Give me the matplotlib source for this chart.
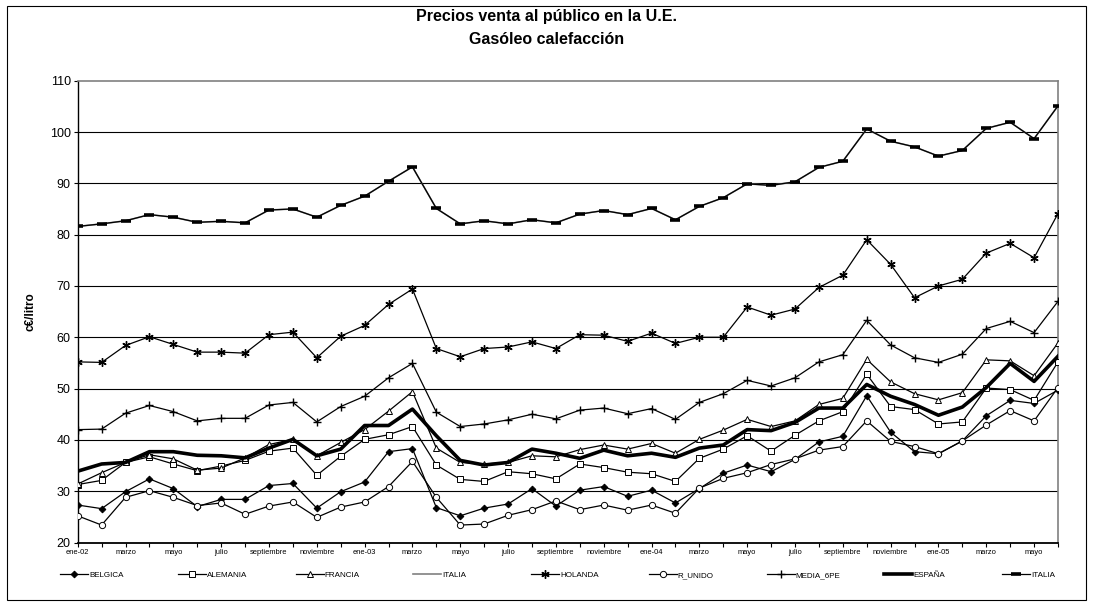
import matplotlib
matplotlib.use("Agg")
import matplotlib.pyplot as plt
from matplotlib.patches import Rectangle

plt.rcParams['font.family'] = ['Liberation Sans', 'DejaVu Sans']

# ---- data (c€/litro), monthly ene-02 .. jun-05 ----
x_labels = ['ene-02', 'marzo', 'mayo', 'julio', 'septiembre', 'noviembre',
            'ene-03', 'marzo', 'mayo', 'julio', 'septiembre', 'noviembre',
            'ene-04', 'marzo', 'mayo', 'julio', 'septiembre', 'noviembre',
            'ene-05', 'marzo', 'mayo']

belgica = [27.3, 26.6, 29.9, 32.4, 30.5, 27.0, 28.4, 28.4, 31.1, 31.5,
           26.7, 29.9, 31.8, 37.7, 38.3, 26.8, 25.2, 26.7, 27.5, 30.5,
           27.1, 30.2, 30.9, 29.0, 30.2, 27.7, 30.5, 33.5, 35.1, 33.8,
           36.2, 39.6, 40.7, 48.6, 41.5, 37.7, 37.3, 39.8, 44.7, 47.7, 47.1, 49.7]
alemania = [31.3, 32.1, 35.6, 36.7, 35.3, 34.0, 34.9, 36.0, 37.8, 38.4,
            33.1, 36.8, 40.1, 41.0, 42.6, 35.1, 32.3, 31.9, 33.8, 33.4,
            32.4, 35.3, 34.6, 33.7, 33.4, 31.9, 36.4, 38.2, 40.8, 37.8,
            40.9, 43.7, 45.5, 52.8, 46.5, 45.9, 43.1, 43.5, 50.1, 49.8, 47.7, 55.2]
francia = [31.4, 33.6, 35.6, 37.1, 36.3, 34.1, 34.5, 36.5, 39.1, 40.1,
           36.9, 39.5, 42.0, 45.6, 49.4, 38.4, 35.6, 35.3, 35.6, 36.9,
           36.7, 38.1, 39.0, 38.2, 39.3, 37.4, 40.1, 41.9, 44.0, 42.6,
           43.7, 46.9, 48.1, 55.7, 51.3, 49.0, 47.8, 49.2, 55.6, 55.4, 52.5, 58.9]
holanda = [55.2, 55.1, 58.4, 60.1, 58.6, 57.1, 57.1, 56.9, 60.5, 61.0,
           56.0, 60.2, 62.3, 66.4, 69.4, 57.8, 56.2, 57.8, 58.1, 59.1,
           57.8, 60.5, 60.4, 59.2, 60.8, 58.8, 60.0, 60.0, 65.9, 64.3,
           65.5, 69.7, 72.1, 79.0, 74.2, 67.7, 70.0, 71.3, 76.4, 78.3, 75.5, 84.1]
r_unido = [25.2, 23.4, 28.8, 30.1, 28.8, 27.2, 27.7, 25.5, 27.1, 27.9,
           24.9, 26.9, 27.9, 30.9, 35.8, 28.8, 23.4, 23.6, 25.3, 26.4,
           28.1, 26.4, 27.3, 26.3, 27.3, 25.7, 30.6, 32.5, 33.6, 35.2,
           36.3, 38.0, 38.7, 43.7, 39.7, 38.7, 37.3, 39.8, 42.9, 45.7, 43.7, 50.2]
media_6pe = [42.0, 42.1, 45.2, 46.7, 45.5, 43.7, 44.2, 44.2, 46.8, 47.3,
             43.5, 46.5, 48.5, 52.1, 54.9, 45.4, 42.6, 43.1, 43.9, 45.0,
             44.1, 45.8, 46.2, 45.1, 46.1, 44.0, 47.3, 49.0, 51.6, 50.5,
             52.1, 55.2, 56.6, 63.3, 58.5, 56.0, 55.1, 56.7, 61.7, 63.1, 60.9, 67.0]
espana = [33.9, 35.3, 35.6, 37.7, 37.7, 37.0, 36.9, 36.5, 38.4, 40.1,
          36.9, 38.2, 42.8, 42.8, 46.0, 40.8, 36.0, 35.1, 35.6, 38.2,
          37.4, 36.4, 38.0, 36.9, 37.4, 36.6, 38.4, 39.0, 42.0, 41.8,
          43.4, 46.2, 46.2, 50.8, 48.5, 46.9, 44.8, 46.4, 50.2, 54.9, 51.4, 56.3]
italia = [81.6, 82.1, 82.7, 83.9, 83.4, 82.4, 82.6, 82.3, 84.8, 85.0,
          83.4, 85.7, 87.5, 90.4, 93.2, 85.1, 82.1, 82.7, 82.1, 82.9,
          82.3, 84.0, 84.7, 83.9, 85.1, 82.9, 85.5, 87.2, 89.9, 89.6,
          90.3, 93.1, 94.3, 100.6, 98.2, 97.1, 95.3, 96.4, 100.7, 101.9, 98.7, 105.1]

y_ticks = [20, 30, 40, 50, 60, 70, 80, 90, 100, 110]

W, H = 1093, 603
fig = plt.figure(figsize=(W / 100, H / 100), dpi=100)
ax = fig.add_axes([77.7 / W, 1 - 542.5 / H, (1058 - 77.7) / W, (542.5 - 80.7) / H])

n = len(italia)
xs = list(range(n))

lw = 0.9
mew = 0.7
handles = []
handles.append(ax.plot(xs, belgica, color='black', lw=lw, marker='D', ms=3.4,
                       mfc='black', mec='black', mew=mew, label='BELGICA', zorder=3)[0])
handles.append(ax.plot(xs, alemania, color='black', lw=lw, marker='s', ms=4.3,
                       mfc='white', mec='black', mew=mew, label='ALEMANIA', zorder=3)[0])
handles.append(ax.plot(xs, francia, color='black', lw=lw, marker='^', ms=4.6,
                       mfc='white', mec='black', mew=mew, label='FRANCIA', zorder=3)[0])
handles.append(ax.plot(xs, italia, color='#808080', lw=1.2, label='ITALIA', zorder=1)[0])
handles.append(ax.plot(xs, holanda, color='black', lw=lw, marker=(6, 2, 0), ms=6,
                       mfc='black', mec='black', mew=1.0, label='HOLANDA', zorder=3)[0])
handles.append(ax.plot(xs, r_unido, color='black', lw=lw, marker='o', ms=4.5,
                       mfc='white', mec='black', mew=mew, label='R_UNIDO', zorder=3)[0])
handles.append(ax.plot(xs, media_6pe, color='black', lw=lw, marker='+', ms=6,
                       mec='black', mew=1.0, label='MEDIA_6PE', zorder=3)[0])
handles.append(ax.plot(xs, espana, color='black', lw=2.6, label='ESPAÑA', zorder=4)[0])
handles.append(ax.plot(xs, italia, color='black', lw=lw, marker='_', ms=6.5,
                       mec='black', mew=2.6, label='ITALIA', zorder=3)[0])

ax.set_xlim(0, n - 1)
ax.set_ylim(20, 110)
ax.set_yticks(y_ticks)
ax.set_yticklabels([str(v) for v in y_ticks], fontsize=9)
ax.set_xticks(list(range(0, n, 2)))
ax.set_xticklabels(x_labels, fontsize=5.4)
ax.set_xticks(list(range(n)), minor=True)
ax.tick_params(axis='x', which='both', direction='out', length=3, width=0.8, pad=2)
ax.tick_params(axis='y', which='both', direction='out', length=3, width=0.8, pad=2)

for v in y_ticks[1:-1]:
    ax.axhline(v, color='black', lw=0.8, zorder=0)

ax.spines['left'].set_color('black')
ax.spines['left'].set_linewidth(1.0)
ax.spines['bottom'].set_color('black')
ax.spines['bottom'].set_linewidth(1.3)
ax.spines['top'].set_color('#808080')
ax.spines['top'].set_linewidth(1.2)
ax.spines['right'].set_color('#808080')
ax.spines['right'].set_linewidth(1.2)

ax.set_ylabel('c€/litro', fontsize=8.5, fontweight='bold')
ax.yaxis.set_label_coords((37 - 77.7) / (1058 - 77.7), 0.5)

fig.text(0.5, 1 - 17 / H, 'Precios venta al público en la U.E.', ha='center', va='center',
         fontsize=11.5, fontweight='bold')
fig.text(0.5, 1 - 40 / H, 'Gasóleo calefacción', ha='center', va='center',
         fontsize=11.5, fontweight='bold')

# legend: evenly spaced entries as in the original
for k, h in enumerate(handles):
    fig.legend(handles=[h], labels=[h.get_label()], loc='center left',
               bbox_to_anchor=((60 + 117.75 * k) / W, 1 - 575 / H),
               frameon=False, fontsize=5.8, handlelength=3.5, handletextpad=0.1,
               borderpad=0, borderaxespad=0)

fig.patches.append(Rectangle((7 / W, 3 / H), (1086 - 7) / W, (597 - 3) / H,
                             transform=fig.transFigure, fill=False,
                             edgecolor='black', lw=0.8))

fig.savefig('out.png', dpi=100)
